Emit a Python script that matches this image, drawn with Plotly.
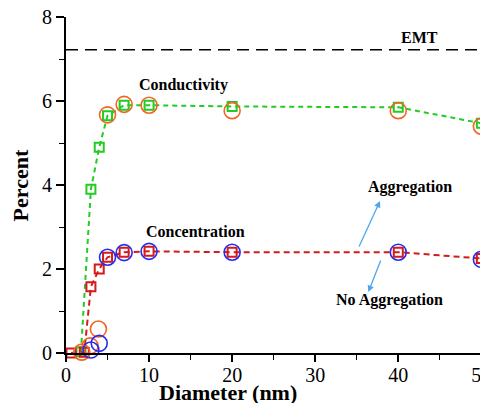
import plotly.graph_objects as go

# Conductivity (green squares, dashed) and its circles (orange)
cond_x = [1.8, 3, 4, 5, 7, 10, 20, 40, 50]
cond_y = [0.03, 3.9, 4.9, 5.65, 5.9, 5.9, 5.87, 5.85, 5.47]
cond_circ_x = [1.9, 2.9, 3.9, 5, 7, 10, 20, 40, 50]
cond_circ_y = [0.02, 0.17, 0.57, 5.67, 5.92, 5.9, 5.77, 5.77, 5.4]

# Concentration (red squares, dashed) and its circles (blue)
conc_x = [0.6, 2.2, 3, 4, 5, 7, 10, 20, 40, 50]
conc_y = [0.0, 0.02, 1.58, 2.0, 2.28, 2.4, 2.42, 2.4, 2.4, 2.25]
conc_circ_x = [1.9, 3, 4, 5, 7, 10, 20, 40, 50]
conc_circ_y = [-0.05, 0.07, 0.23, 2.28, 2.39, 2.42, 2.4, 2.4, 2.23]

emt_x = [0, 50.8]
emt_y = [7.22, 7.22]

x_ticks = [0, 10, 20, 30, 40, 50]
y_ticks = [0, 2, 4, 6, 8]

SERIF = "Times New Roman, Liberation Serif, serif"
GREEN = "#22cc22"
RED = "#d41a1a"
ORANGE = "#f26522"
BLUE = "#2a2aee"

fig = go.Figure()

fig.add_trace(go.Scatter(x=emt_x, y=emt_y, mode="lines",
                         line=dict(color="black", width=1.5, dash="12px,7px"),
                         cliponaxis=False, hoverinfo="skip"))

fig.add_trace(go.Scatter(x=cond_x, y=cond_y, mode="lines+markers",
                         line=dict(color=GREEN, width=2, dash="5px,4px"),
                         marker=dict(symbol="square-open", size=9, color=GREEN,
                                     line=dict(width=2, color=GREEN)),
                         cliponaxis=False))
fig.add_trace(go.Scatter(x=conc_x, y=conc_y, mode="lines+markers",
                         line=dict(color=RED, width=2, dash="6px,4px"),
                         marker=dict(symbol="square-open", size=9, color=RED,
                                     line=dict(width=2, color=RED)),
                         cliponaxis=False))
fig.add_trace(go.Scatter(x=cond_circ_x, y=cond_circ_y, mode="markers",
                         marker=dict(symbol="circle-open", size=16, color=ORANGE,
                                     line=dict(width=1.6, color=ORANGE)),
                         cliponaxis=False))
fig.add_trace(go.Scatter(x=conc_circ_x, y=conc_circ_y, mode="markers",
                         marker=dict(symbol="circle-open", size=16, color=BLUE,
                                     line=dict(width=1.6, color=BLUE)),
                         cliponaxis=False))

label_font = dict(family=SERIF, size=16, color="black")
title_font = dict(family=SERIF, size=22, color="black")
annotations = [
    dict(x=42.6, y=7.52, text="<b>EMT</b>", showarrow=False, font=label_font),
    dict(x=14.2, y=6.38, text="<b>Conductivity</b>", showarrow=False, font=label_font),
    dict(x=15.6, y=2.9, text="<b>Concentration</b>", showarrow=False, font=label_font),
    dict(x=41.4, y=3.95, text="<b>Aggregation</b>", showarrow=False, font=label_font),
    dict(x=39.0, y=1.26, text="<b>No Aggregation</b>", showarrow=False, font=label_font),
    dict(x=37.8, y=3.62, ax=35.2, ay=2.5, axref="x", ayref="y", xref="x", yref="y",
         showarrow=True, arrowhead=2, arrowsize=1, arrowwidth=1.3, arrowcolor="#4da6f0", text=""),
    dict(x=36.4, y=1.45, ax=37.95, ay=2.24, axref="x", ayref="y", xref="x", yref="y",
         showarrow=True, arrowhead=2, arrowsize=1, arrowwidth=1.3, arrowcolor="#4da6f0", text=""),
    # axis titles
    dict(xref="paper", yref="paper", x=0.385, y=-0.117, yanchor="middle", xanchor="center",
         text="<b>Diameter (nm)</b>", showarrow=False, font=title_font),
    dict(xref="paper", yref="paper", x=-0.108, y=0.5, xanchor="center", yanchor="middle",
         textangle=-90, text="<b>Percent</b>", showarrow=False, font=title_font),
]

# the page body adds an 8px offset, so the figure is sized to end at the window edge
fig.update_layout(
    width=480, height=395,
    margin=dict(l=58, r=0, t=9, b=50),
    paper_bgcolor="white", plot_bgcolor="white",
    showlegend=False,
    annotations=annotations,
    font=dict(family=SERIF, color="black"),
)
fig.update_xaxes(
    range=[0, 50.8], tickvals=x_ticks, ticktext=[str(v) for v in x_ticks],
    showline=True, linecolor="black", linewidth=2, zeroline=False, showgrid=False,
    ticks="outside", ticklen=7, tickwidth=1.5, tickcolor="black",
    minor=dict(dtick=5, tick0=0, ticks="outside", ticklen=5, tickwidth=1.2, tickcolor="black", showgrid=False),
    tickfont=dict(family=SERIF, size=20, color="black"),
    ticklabelstandoff=-4,
    automargin=False, ticklabeloverflow="allow",
)
fig.update_yaxes(
    range=[0, 8], tickvals=y_ticks, ticktext=[str(v) for v in y_ticks],
    showline=True, linecolor="black", linewidth=2, zeroline=False, showgrid=False,
    ticks="outside", ticklen=8, tickwidth=1.5, tickcolor="black",
    minor=dict(dtick=1, tick0=0, ticks="outside", ticklen=5, tickwidth=1.2, tickcolor="black", showgrid=False),
    tickfont=dict(family=SERIF, size=20, color="black"),
    automargin=False, ticklabeloverflow="allow",
)

fig.write_html("out.html")
